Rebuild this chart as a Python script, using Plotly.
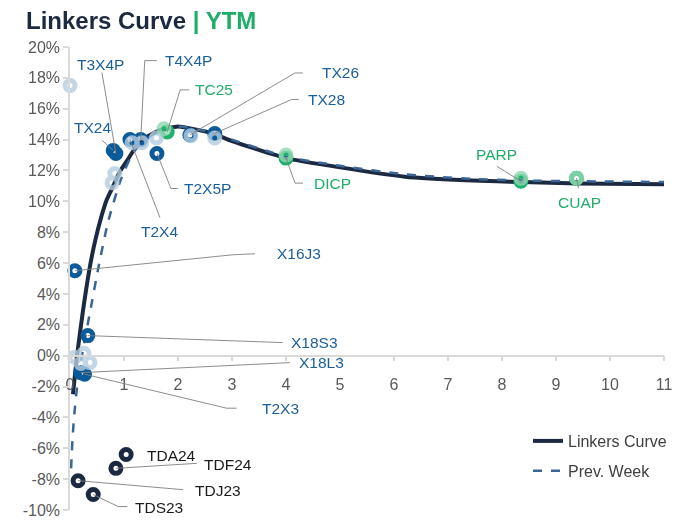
import plotly.graph_objects as go

# ---- fitted curves (modified duration in years, yield to maturity in %) ----
curve_dur = [0.055, 0.13, 0.24, 0.37, 0.47, 0.58, 0.68, 0.8, 0.92, 1.05, 1.3, 1.66, 2.0, 2.64, 3.0, 4.0, 5.0, 6.2, 7.45, 8.37, 9.4, 11.0]
curve_ytm = [-2.5, 0.0, 2.9, 5.8, 7.5, 9.0, 10.1, 11.0, 11.9, 12.6, 13.9, 14.6, 14.85, 14.4, 13.9, 12.8, 12.2, 11.6, 11.35, 11.25, 11.15, 11.1]

prev_curve_dur = [0.02, 0.045, 0.075, 0.135, 0.24, 0.37, 0.52, 0.7, 0.95, 1.2, 1.6, 2.0, 2.64, 3.0, 4.0, 5.0, 6.2, 7.45, 8.37, 9.4, 11.0]
prev_curve_ytm = [-7.3, -5.5, -4.0, -1.9, 0.4, 2.8, 5.6, 8.6, 11.5, 13.3, 14.5, 14.85, 14.45, 14.0, 12.9, 12.3, 11.75, 11.45, 11.35, 11.3, 11.25]

# ---- bonds, current week ----
bond_names = ["TX24", "T3X4P", "T2X4", "T4X4P", "T2X5P", "TC25", "TX26", "TX28", "DICP", "PARP", "CUAP",
              "X16J3", "X18S3", "X18L3", "T2X3", "TDA24", "TDF24", "TDJ23", "TDS23"]
bond_dur = [0.80, 0.85, 1.11, 1.31, 1.61, 1.80, 2.22, 2.68, 4.00, 8.35, 9.38,
            0.09, 0.33, 0.20, 0.27, 1.04, 0.85, 0.15, 0.43]
bond_ytm = [13.3, 13.1, 14.0, 14.0, 13.1, 14.5, 14.3, 14.4, 12.8, 11.3, 11.5,
            5.5, 1.3, -1.1, -1.2, -6.4, -7.3, -8.1, -9.0]
bond_group = ["boncer", "boncer", "boncer", "boncer", "boncer", "legacy", "boncer", "boncer", "legacy", "legacy", "legacy",
              "boncer", "boncer", "boncer", "boncer", "dollar", "dollar", "dollar", "dollar"]

# ---- bonds, previous week ----
prev_dur = [0.0, 0.83, 0.78, 1.15, 1.33, 1.60, 1.74, 2.24, 2.68, 4.0, 8.35, 9.38, 0.09, 0.26, 0.37, 0.20]
prev_ytm = [17.5, 11.8, 11.2, 13.8, 13.8, 14.1, 14.7, 14.25, 14.1, 13.0, 11.5, 11.5, -0.1, 0.15, -0.45, -0.5]
prev_group = ["boncer", "boncer", "boncer", "boncer", "boncer", "boncer", "legacy", "boncer", "boncer", "legacy",
              "legacy", "legacy", "boncer", "boncer", "boncer", "boncer"]

# ---- axis ticks ----
x_tick_vals = list(range(0, 12))
x_tick_text = [str(v) for v in x_tick_vals]
y_tick_vals = list(range(-10, 21, 2))
y_tick_text = [f"{v}%" for v in y_tick_vals]

# ---- styling ----
FONT = "Liberation Sans, Arial, Helvetica, sans-serif"
NAVY = "#1b2a41"
GREEN = "#1fae6a"
MARK_COLORS = {"boncer": "#0b5b9b", "legacy": "#1fb26c", "dollar": "#1b2a41"}
PREV_COLORS = {"boncer": "#b3cce0", "legacy": "#93d6b3", "dollar": "#b3bcc8"}
TEXT_COLORS = {"boncer": "#1b5e9c", "legacy": "#1fae6a", "dollar": "#1a1a1a"}
LEADER_COLOR = "#7f7f7f"

# label placement: leader polyline (pixel offsets from the marker, y up),
# text offset (pixels) and horizontal anchor of the text
LABELS = {
    "TX24":  ([(-11, 10)], (-21, 23), "center"),
    "T3X4P": ([(-14, 81)], (-15, 89), "center"),
    "T2X4":  ([(30, -78)], (30, -92), "center"),
    "T4X4P": ([(4, 79), (16, 79)], (22, 79), "left"),
    "T2X5P": ([(14, -35), (21, -35)], (25, -35), "left"),
    "TC25":  ([(13, 42), (22, 42)], (26, 42), "left"),
    "TX26":  ([(105, 62), (113, 62)], (130, 62), "left"),
    "TX28":  ([(77, 34), (84, 34)], (91, 34), "left"),
    "DICP":  ([(9, -25), (17, -25)], (26, -25), "left"),
    "PARP":  ([(-24, 15)], (-24, 27), "center"),
    "CUAP":  ([(2, -10)], (3, -24), "center"),
    "X16J3": ([(158, 16), (180, 17)], (200, 17), "left"),
    "X18S3": ([(195, -7)], (201, -7), "left"),
    "X18L3": ([(209, 10)], (216, 10), "left"),
    "T2X3":  ([(142, -34), (152, -34)], (175, -34), "left"),
    "TDA24": ([], (19, -1), "left"),
    "TDF24": ([(81, 5)], (86, 4), "left"),
    "TDJ23": ([(105, -9)], (115, -10), "left"),
    "TDS23": ([(25, -12), (34, -12)], (40, -13), "left"),
}

fig = go.Figure()

# curves
fig.add_trace(go.Scatter(
    x=curve_dur, y=curve_ytm, mode="lines", name="Linkers Curve",
    line=dict(color=NAVY, width=4, shape="spline", smoothing=0.5),
    legendgroup="a", hoverinfo="skip", cliponaxis=False,
))
fig.add_trace(go.Scatter(
    x=prev_curve_dur, y=prev_curve_ytm, mode="lines", name="Prev. Week",
    line=dict(color="#3a6596", width=2.5, dash="dash", shape="spline", smoothing=0.6),
    legendgroup="b", hoverinfo="skip", cliponaxis=False,
))

# current week bonds (ring markers)
for grp in ["dollar", "boncer", "legacy"]:
    idx = [i for i, g in enumerate(bond_group) if g == grp]
    fig.add_trace(go.Scatter(
        x=[bond_dur[i] for i in idx], y=[bond_ytm[i] for i in idx],
        text=[bond_names[i] for i in idx], mode="markers", showlegend=False,
        marker=dict(symbol="circle-open", size=10, color=MARK_COLORS[grp],
                    line=dict(color=MARK_COLORS[grp], width=5)),
        cliponaxis=False, hovertemplate="%{text}: %{y:.1f}%<extra></extra>",
    ))

# previous week bonds (light ring markers)
for grp in ["boncer", "legacy"]:
    idx = [i for i, g in enumerate(prev_group) if g == grp]
    fig.add_trace(go.Scatter(
        x=[prev_dur[i] for i in idx], y=[prev_ytm[i] for i in idx],
        mode="markers", showlegend=False, opacity=0.8,
        marker=dict(symbol="circle-open", size=10, color=PREV_COLORS[grp],
                    line=dict(color=PREV_COLORS[grp], width=5)),
        cliponaxis=False, hoverinfo="skip",
    ))

# labels with leader lines
shapes = []
annotations = []
for name, dur, ytm, grp in zip(bond_names, bond_dur, bond_ytm, bond_group):
    leader, (tx, ty), anchor = LABELS[name]
    if leader:
        path = "M0,0 " + " ".join(f"L{px},{py}" for px, py in leader)
        shapes.append(dict(
            type="path", xref="x", yref="y", xsizemode="pixel", ysizemode="pixel",
            xanchor=dur, yanchor=ytm, path=path,
            line=dict(color=LEADER_COLOR, width=0.9),
        ))
    annotations.append(dict(
        x=dur, y=ytm, xref="x", yref="y", text=name, showarrow=False,
        xshift=tx, yshift=ty, xanchor=anchor, yanchor="middle",
        font=dict(family=FONT, size=15.5, color=TEXT_COLORS[grp]),
    ))

axis_color = "#d9d9d9"
fig.update_layout(
    width=676, height=521,
    margin=dict(l=70, r=12, t=47, b=11, autoexpand=False),
    paper_bgcolor="white", plot_bgcolor="white",
    font=dict(family=FONT, size=16, color="#595959"),
    title=dict(
        text=f"<b>Linkers Curve</b><span style='color:{GREEN}'><b> | YTM</b></span>",
        font=dict(family=FONT, size=24, color=NAVY),
        x=26 / 676, xanchor="left", xref="container",
        y=1 - 21 / 521, yanchor="middle", yref="container",
    ),
    xaxis=dict(
        range=[0, 11], tickvals=x_tick_vals, ticktext=x_tick_text,
        anchor="free", position=1 / 3,
        showgrid=False, zeroline=False,
        showline=True, linecolor=axis_color, linewidth=1.5,
        ticks="outside", ticklen=5, tickcolor=axis_color, tickwidth=1.5,
        ticklabelstandoff=9,
        tickfont=dict(family=FONT, size=16, color="#595959"),
    ),
    yaxis=dict(
        range=[-10, 20], tickvals=y_tick_vals, ticktext=y_tick_text,
        showgrid=False, zeroline=False,
        showline=True, linecolor=axis_color, linewidth=1.5,
        ticks="outside", ticklen=5, tickcolor=axis_color, tickwidth=1.5,
        tickfont=dict(family=FONT, size=16, color="#595959"),
    ),
    legend=dict(
        x=(528 - 70) / 594, y=(510 - 424) / 463, xanchor="left", yanchor="top",
        bgcolor="rgba(0,0,0,0)", font=dict(family=FONT, size=16, color="#404040"),
        tracegroupgap=6,
    ),
    shapes=shapes,
    annotations=annotations,
    hovermode="closest",
)

fig.write_html("out.html")
